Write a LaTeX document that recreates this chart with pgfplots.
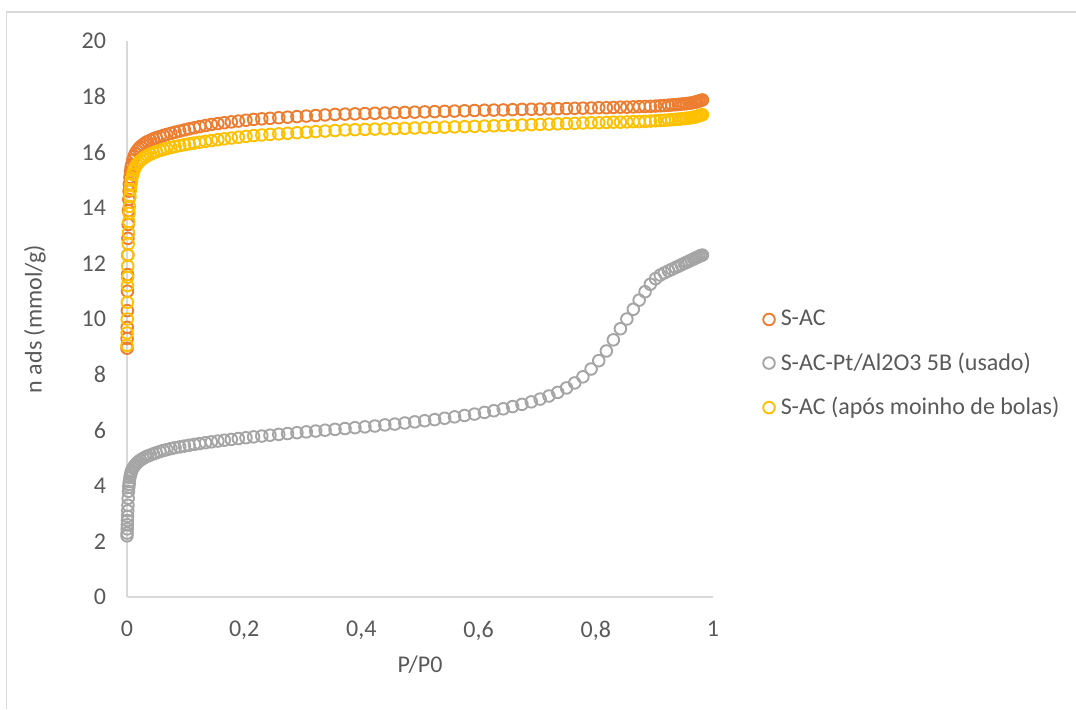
\documentclass[border=0pt]{standalone}
\usepackage{pgfplots}
\pgfplotsset{compat=1.18}
\usepackage{pgfplotstable}
\usepackage{fontspec}
\setmainfont{Carlito}
\definecolor{cOr}{HTML}{ED7D31}
\definecolor{cGr}{HTML}{A5A5A5}
\definecolor{cYe}{HTML}{FFC000}
\definecolor{cTx}{HTML}{595959}
\definecolor{cAx}{HTML}{D9D9D9}
\pgfplotstableread{
P O G Y
0 8.95 2.2 9.05
0.0002 9.3 2.3 9.5
0.0004 9.7 2.45 10.0
0.0006 10.3 2.6 10.6
0.0008 11.0 2.75 11.2
0.001 11.6 2.9 11.5
0.0013 12.3 3.1 11.9
0.0016 12.9 3.3 12.3
0.002 13.4 3.55 12.7
0.0025 13.9 3.8 13.1
0.003 14.3 3.95 13.5
0.0035 14.6 4.05 13.8
0.004 14.85 4.15 14.05
0.005 15.1 4.3 14.4
0.006 15.3 4.4 14.65
0.007 15.45 4.48 14.85
0.008 15.55 4.55 15.0
0.01 15.72 4.63 15.2
0.012 15.85 4.7 15.35
0.014 15.95 4.75 15.45
0.017 16.05 4.82 15.55
0.02 16.13 4.88 15.63
0.023 16.2 4.93 15.7
0.027 16.27 4.98 15.77
0.031 16.33 5.03 15.83
0.035 16.38 5.07 15.88
0.04 16.43 5.11 15.93
0.045 16.48 5.15 15.98
0.05 16.52 5.19 16.02
0.056 16.56 5.23 16.06
0.062 16.6 5.27 16.1
0.068 16.64 5.3 16.13
0.075 16.68 5.34 16.17
0.082 16.72 5.37 16.2
0.09 16.76 5.4 16.24
0.098 16.8 5.43 16.27
0.106 16.84 5.46 16.3
0.115 16.88 5.49 16.33
0.124 16.92 5.52 16.36
0.134 16.96 5.55 16.39
0.144 17.0 5.58 16.42
0.155 17.03 5.61 16.45
0.166 17.06 5.64 16.48
0.178 17.09 5.67 16.51
0.19 17.12 5.7 16.54
0.203 17.15 5.73 16.57
0.216 17.18 5.76 16.6
0.23 17.2 5.79 16.62
0.244 17.22 5.82 16.64
0.259 17.24 5.85 16.66
0.274 17.26 5.88 16.68
0.29 17.28 5.91 16.7
0.306 17.3 5.94 16.72
0.322 17.32 5.97 16.74
0.338 17.34 6.0 16.76
0.355 17.36 6.03 16.78
0.372 17.37 6.06 16.8
0.389 17.38 6.09 16.81
0.406 17.39 6.12 16.82
0.423 17.4 6.15 16.83
0.44 17.41 6.19 16.84
0.457 17.42 6.22 16.85
0.474 17.43 6.26 16.86
0.491 17.44 6.3 16.87
0.508 17.45 6.34 16.88
0.525 17.46 6.38 16.89
0.542 17.47 6.43 16.9
0.559 17.48 6.48 16.91
0.576 17.49 6.53 16.92
0.593 17.5 6.58 16.93
0.61 17.51 6.64 16.94
0.626 17.515 6.7 16.95
0.642 17.52 6.77 16.96
0.658 17.53 6.85 16.97
0.674 17.54 6.93 16.98
0.69 17.545 7.02 16.99
0.705 17.55 7.12 17.0
0.72 17.56 7.23 17.01
0.735 17.565 7.36 17.02
0.75 17.57 7.52 17.03
0.764 17.58 7.7 17.04
0.778 17.585 7.92 17.05
0.792 17.59 8.2 17.06
0.805 17.6 8.5 17.06
0.818 17.6 8.85 17.07
0.83 17.61 9.25 17.08
0.842 17.62 9.65 17.08
0.853 17.62 10.0 17.09
0.864 17.63 10.35 17.1
0.874 17.64 10.68 17.1
0.884 17.645 10.98 17.11
0.893 17.65 11.25 17.12
0.902 17.66 11.45 17.13
0.91 17.67 11.58 17.14
0.917 17.68 11.66 17.15
0.924 17.69 11.73 17.16
0.93 17.7 11.79 17.17
0.936 17.71 11.85 17.18
0.941 17.72 11.9 17.19
0.946 17.73 11.95 17.2
0.951 17.74 12.0 17.21
0.955 17.75 12.04 17.22
0.959 17.76 12.08 17.23
0.963 17.77 12.12 17.24
0.967 17.79 12.16 17.26
0.97 17.8 12.19 17.27
0.973 17.82 12.22 17.29
0.976 17.84 12.25 17.31
0.979 17.86 12.28 17.33
0.982 17.88 12.3 17.35
}\datatable
\begin{document}
\begin{tikzpicture}
\useasboundingbox (0,0) rectangle (538pt,354.5pt);
\draw[cAx, line width=0.6pt] (3.2pt,0) -- (3.2pt,348.5pt) -- (538pt,348.5pt);
\begin{axis}[
  at={(63.5pt,56pt)}, anchor=south west,
  scale only axis, width=293pt, height=278pt,
  xmin=0, xmax=1, ymin=0, ymax=20,
  xtick={0,0.2,0.4,0.6,0.8,1},
  ytick={0,2,4,6,8,10,12,14,16,18,20},
  xticklabels={0,{0,2},{0,4},{0,6},{0,8},1},
  axis lines*=left,
  axis line style={draw=cAx, line width=0.75pt, -},
  major tick length=0pt,
  tick label style={font=\fontsize{12}{14}\selectfont, text=cTx, /pgf/number format/assume math mode=true},
  xticklabel style={yshift=-8.5pt},
  yticklabel style={xshift=-7pt},
  xlabel={P/P0}, ylabel={n ads (mmol/g)},
  label style={font=\fontsize{12}{14}\selectfont, text=cTx},
  xlabel style={at={(rel axis cs:0.5,0)}, anchor=center, yshift=-34pt},
  ylabel style={at={(rel axis cs:-0.157,0.5)}, anchor=center},
  legend style={at={(1.085,0.419)}, anchor=west, draw=none, fill=none,
    font=\fontsize{12}{14}\selectfont, text=cTx, row sep=10pt,
    inner sep=0pt, nodes={inner xsep=3pt, inner ysep=1pt}},
  legend cell align=left,
  legend image code/.code={\draw[#1] plot coordinates {(0.12cm,0cm)};},
  clip=false,
]
\addplot[only marks, mark=o, mark size=2.9pt, line width=0.95pt, color=cOr] table[x=P,y=O] {\datatable};
\addlegendentry{S-AC}
\addplot[only marks, mark=o, mark size=2.9pt, line width=0.95pt, color=cGr] table[x=P,y=G] {\datatable};
\addlegendentry{S-AC-Pt/Al2O3 5B (usado)}
\addplot[only marks, mark=o, mark size=2.9pt, line width=0.95pt, color=cYe] table[x=P,y=Y] {\datatable};
\addlegendentry{S-AC (após moinho de bolas)}
\end{axis}
\end{tikzpicture}
\end{document}
